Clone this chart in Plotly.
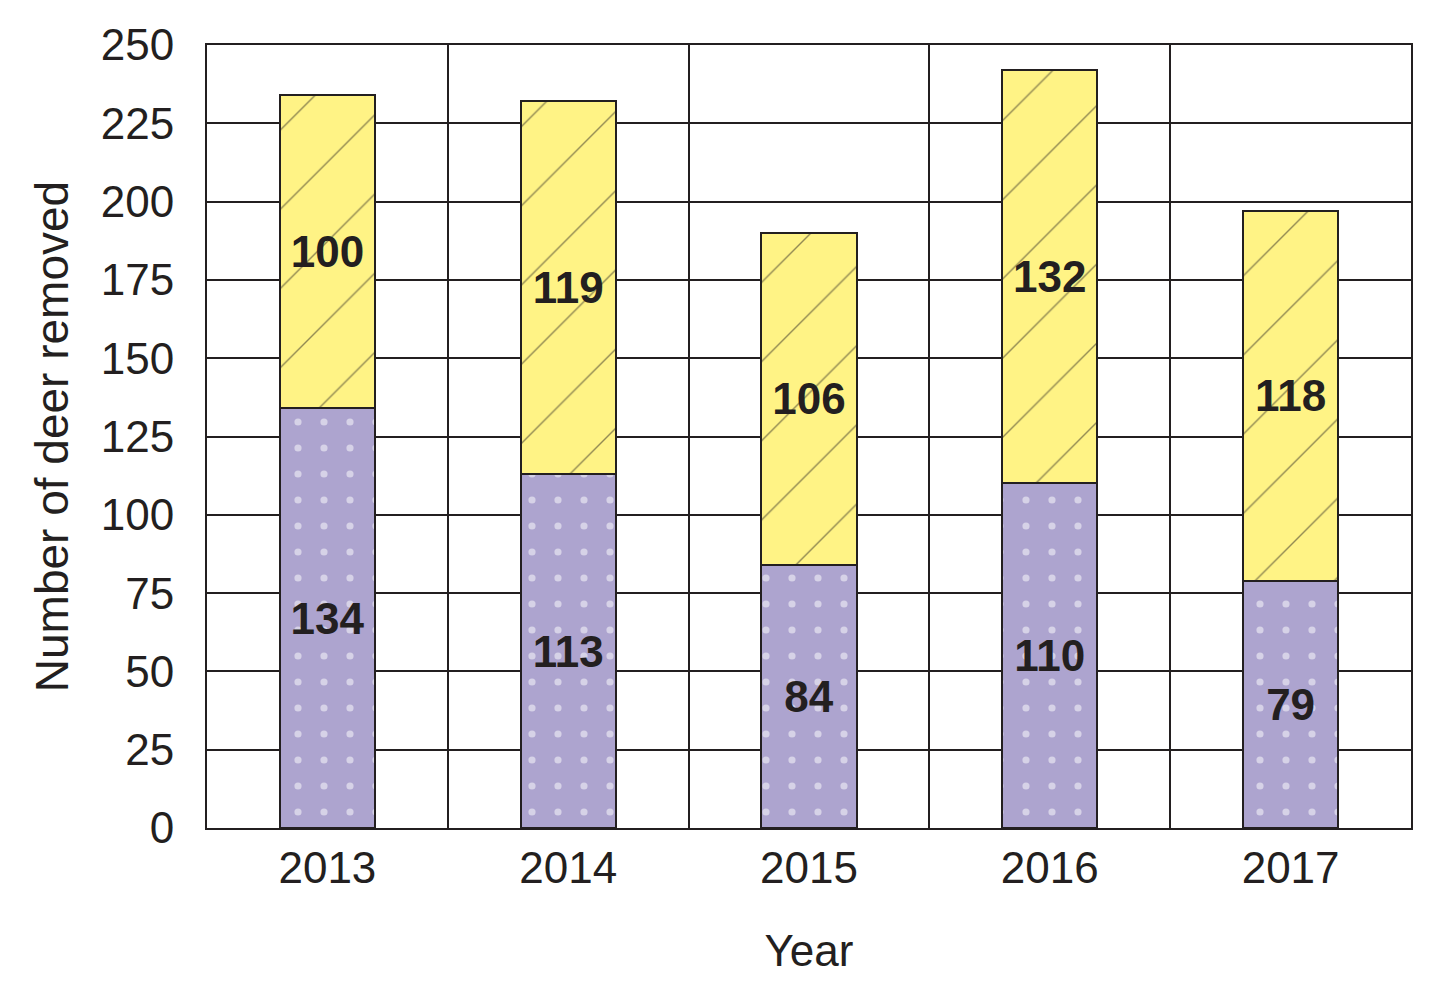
import plotly.graph_objects as go

years = ["2013", "2014", "2015", "2016", "2017"]
lower_vals = [134, 113, 84, 110, 79]
upper_vals = [100, 119, 106, 132, 118]
y_ticks = [0, 25, 50, 75, 100, 125, 150, 175, 200, 225, 250]

FONT = "Liberation Sans, Arial, sans-serif"
TXT = "#231F20"

fig = go.Figure()
fig.add_trace(go.Bar(
    x=years, y=lower_vals, text=[str(v) for v in lower_vals],
    textposition="inside", insidetextanchor="middle",
    textfont=dict(family=FONT, size=44, color=TXT, weight="bold"),
    marker=dict(color="#ADA4CF", line=dict(color=TXT, width=2),
                pattern=dict(shape=".", fgcolor="white", bgcolor="#ADA4CF",
                             size=26, solidity=0.06, fillmode="overlay")),
    width=0.395, showlegend=False, hoverinfo="skip",
))
fig.add_trace(go.Bar(
    x=years, y=upper_vals, text=[str(v) for v in upper_vals],
    textposition="inside", insidetextanchor="middle",
    textfont=dict(family=FONT, size=44, color=TXT, weight="bold"),
    marker=dict(color="#FFF385", line=dict(color=TXT, width=2),
                pattern=dict(shape="/", fgcolor=TXT, bgcolor="#FFF385",
                             size=56, solidity=0.025, fillmode="overlay")),
    width=0.395, showlegend=False, hoverinfo="skip",
))

fig.update_layout(
    barmode="stack",
    width=1443, height=993,
    margin=dict(l=207, r=32, t=45, b=165),
    paper_bgcolor="white", plot_bgcolor="white",
    font=dict(family=FONT, color=TXT, size=44),
    uniformtext=dict(mode=False),
)
fig.update_xaxes(
    type="category", tickson="boundaries", showgrid=True,
    gridcolor=TXT, gridwidth=1.5, ticks="", ticklen=0,
    showline=True, linecolor=TXT, linewidth=2, mirror=True,
    tickfont=dict(size=44, color=TXT), ticklabelstandoff=0,
    title=dict(text="Year", font=dict(size=44, color=TXT), standoff=44),
)
fig.update_yaxes(
    range=[0, 250], tickvals=y_ticks, ticktext=[str(v) for v in y_ticks],
    showgrid=True, gridcolor=TXT, gridwidth=1.5, zeroline=False,
    ticks="", ticklen=0, ticklabelstandoff=22,
    showline=True, linecolor=TXT, linewidth=2, mirror=True,
    tickfont=dict(size=44, color=TXT),
    title=dict(text="Number of deer removed", font=dict(size=46, color=TXT), standoff=18),
)

fig.write_html("out.html")
